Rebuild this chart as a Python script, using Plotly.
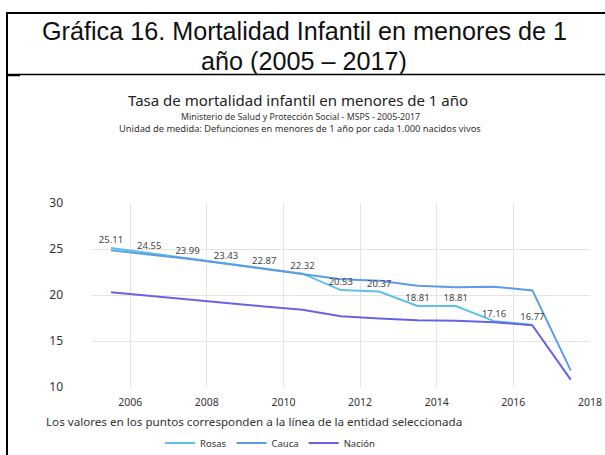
import plotly.graph_objects as go

years = [2005, 2006, 2007, 2008, 2009, 2010, 2011, 2012, 2013, 2014, 2015, 2016, 2017]
rosas = [25.11, 24.55, 23.99, 23.43, 22.87, 22.32, 20.53, 20.37, 18.81, 18.81, 17.16, 16.77, None]
cauca = [24.85, 24.4, 23.95, 23.4, 22.85, 22.32, 21.7, 21.55, 21.0, 20.85, 20.9, 20.5, 11.8]
nacion = [20.3, 19.9, 19.5, 19.1, 18.75, 18.4, 17.7, 17.45, 17.25, 17.2, 17.05, 16.7, 10.8]

x_dates = [f"{y}-07-01" for y in years]

C_ROSAS = "#5DC0E8"
C_CAUCA = "#5C9CE6"
C_NACION = "#6A62E6"
FONT = "Noto Sans"

# plot area in pixels
L, R, T, B = 92, 590, 203, 387
W, H = 605, 455

def px(x):
    return (x - L) / (R - L)

def py(y):
    return (B - y) / (B - T)

fig = go.Figure()
fig.add_trace(go.Scatter(x=x_dates, y=rosas, mode="lines", name="Rosas",
                         line=dict(color=C_ROSAS, width=2)))
fig.add_trace(go.Scatter(x=x_dates, y=cauca, mode="lines", name="Cauca",
                         line=dict(color=C_CAUCA, width=2)))
fig.add_trace(go.Scatter(x=x_dates, y=nacion, mode="lines", name="Nación",
                         line=dict(color=C_NACION, width=2)))
fig.add_trace(go.Scatter(x=x_dates, y=rosas, mode="markers+text", showlegend=False,
                         marker=dict(size=2, opacity=0),
                         text=[f"{v:.2f}" if v is not None else "" for v in rosas],
                         textposition="top center",
                         textfont=dict(family=FONT, size=9.5, color="#444444"),
                         hoverinfo="skip"))

annotations = [
    dict(text="Gráfica 16. Mortalidad Infantil en menores de 1", x=px(304), y=py(31.5),
         font=dict(family="Liberation Sans", size=25.2, color="#111111")),
    dict(text="año (2005 – 2017)", x=px(304), y=py(60.5),
         font=dict(family="Liberation Sans", size=25.2, color="#111111")),
    dict(text="Tasa de mortalidad infantil en menores de 1 año", x=px(298), y=py(100),
         font=dict(family=FONT, size=15, color="#222222")),
    dict(text="Ministerio de Salud y Protección Social - MSPS - 2005-2017", x=px(300), y=py(116.5),
         font=dict(family=FONT, size=8.8, color="#333333")),
    dict(text="Unidad de medida: Defunciones en menores de 1 año por cada 1.000 nacidos vivos", x=px(300), y=py(128.5),
         font=dict(family=FONT, size=9.3, color="#333333")),
    dict(text="Los valores en los puntos corresponden a la línea de la entidad seleccionada", x=px(44), y=py(421),
         xanchor="left", font=dict(family=FONT, size=11.65, color="#333333")),
]
for a in annotations:
    a.update(xref="paper", yref="paper", showarrow=False)
    a.setdefault("xanchor", "center")
    a["yanchor"] = "middle"

shapes = [
    dict(type="line", x0=px(7), x1=px(606), y0=py(13), y1=py(13), line=dict(color="black", width=2)),
    dict(type="line", x0=px(7), x1=px(7), y0=py(12), y1=py(456), line=dict(color="black", width=2)),
    dict(type="line", x0=px(7), x1=px(606), y0=py(74.5), y1=py(74.5), line=dict(color="black", width=1.3)),
    dict(type="line", x0=px(7), x1=px(20), y0=py(75.5), y1=py(75.5), line=dict(color="black", width=1.5)),
]
for s in shapes:
    s.update(xref="paper", yref="paper", layer="above")

fig.update_layout(
    width=W, height=H,
    margin=dict(l=L, r=W - R, t=T, b=H - B, autoexpand=False),
    paper_bgcolor="white", plot_bgcolor="white",
    font=dict(family=FONT, color="#333333"),
    showlegend=True,
    legend=dict(orientation="h", xref="container", yref="container",
                x=160 / W, y=1 - 443 / H, xanchor="left", yanchor="middle",
                font=dict(family=FONT, size=9.5, color="#333333"),
                itemwidth=30, tracegroupgap=0),
    annotations=annotations,
    shapes=shapes,
)
fig.update_xaxes(type="date", range=["2005-01-01", "2018-01-01"], tick0="2006-01-01", dtick="M24",
                 tickformat="%Y", showgrid=True, gridcolor="#E4E4E4", gridwidth=1,
                 zeroline=False, showline=False, ticks="", automargin=False, ticklabelstandoff=7,
                 tickfont=dict(family=FONT, size=10.5, color="#333333"))
fig.update_yaxes(range=[10, 30], dtick=5, showgrid=True, gridcolor="#E4E4E4", gridwidth=1,
                 zeroline=False, showline=False, ticks="", ticklabelstandoff=28, automargin=False,
                 tickfont=dict(family=FONT, size=12, color="#333333"))

fig.write_html("out.html", config={"displayModeBar": False},
               post_script="document.body.style.margin='0';document.body.style.overflow='hidden';")
